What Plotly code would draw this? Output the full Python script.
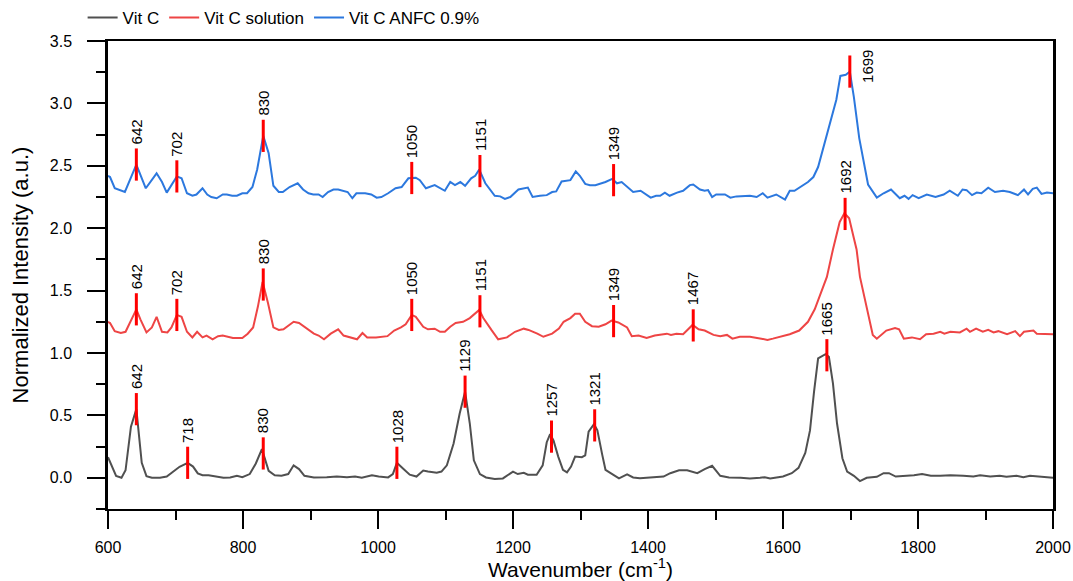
import numpy as np
import plotly.graph_objects as go

# ---------------- data ----------------
vitc_wn = [600, 603, 612, 620, 626, 634, 642, 650, 657, 665, 677, 687, 697, 706, 718, 726, 733, 740, 749, 759,
           771, 781, 791, 799, 810, 819, 828, 838, 847, 857, 867, 875, 883, 891, 905, 924, 939, 954, 966, 976,
           991, 1001, 1015, 1022, 1028, 1037, 1047, 1057, 1067, 1074, 1087, 1094, 1102, 1112, 1121, 1129, 1136,
           1142, 1151, 1160, 1173, 1185, 1200, 1207, 1216, 1222, 1235, 1244, 1250, 1255, 1260, 1267, 1274, 1280,
           1286, 1292, 1302, 1307, 1312, 1320, 1325, 1332, 1337, 1347, 1357, 1369, 1378, 1388, 1401, 1413, 1423,
           1433, 1446, 1458, 1473, 1484, 1495, 1507, 1520, 1537, 1551, 1566, 1573, 1581, 1591, 1600, 1613, 1623,
           1633, 1640, 1646, 1652, 1663, 1668, 1674, 1680, 1688, 1695, 1705, 1714, 1724, 1739, 1749, 1757, 1767,
           1784, 1794, 1806, 1819, 1833, 1848, 1867, 1882, 1892, 1907, 1921, 1931, 1946, 1956, 1966, 1981, 2000]
vitc_int = [0.165, 0.13, 0.015, 0.0, 0.06, 0.41, 0.55, 0.12, 0.013, 0.0, 0.0, 0.01, 0.048, 0.088, 0.12, 0.09,
            0.035, 0.02, 0.02, 0.01, 0.0, 0.003, 0.016, 0.005, 0.03, 0.115, 0.23, 0.056, 0.02, 0.016, 0.03, 0.10,
            0.07, 0.016, 0.003, 0.005, 0.01, 0.005, 0.01, 0.0, 0.02, 0.01, 0.003, 0.03, 0.12, 0.075, 0.025, 0.01,
            0.058, 0.05, 0.04, 0.05, 0.10, 0.275, 0.515, 0.69, 0.435, 0.14, 0.03, 0.003, -0.01, -0.005, 0.05,
            0.03, 0.04, 0.025, 0.025, 0.10, 0.285, 0.35, 0.30, 0.17, 0.064, 0.043, 0.09, 0.17, 0.165, 0.18, 0.37,
            0.43, 0.38, 0.19, 0.064, 0.03, -0.004, 0.027, 0.003, -0.003, 0.0, 0.008, 0.01, 0.037, 0.06, 0.061,
            0.037, 0.069, 0.096, 0.016, 0.003, 0.0, -0.005, 0.0, 0.005, -0.005, 0.005, 0.01, 0.037, 0.08, 0.20,
            0.38, 0.69, 0.957, 0.99, 0.97, 0.757, 0.437, 0.157, 0.05, 0.016, -0.026, 0.0, 0.008, 0.037, 0.037,
            0.01, 0.016, 0.02, 0.03, 0.016, 0.016, 0.02, 0.016, 0.01, 0.02, 0.01, 0.016, 0.008, 0.016, 0.005,
            0.016, 0.008, 0.0]

sol_wn = [600, 603, 610, 619, 626, 642, 648, 657, 665, 672, 680, 688, 694, 702, 709, 717, 725, 732, 740, 746,
          755, 763, 770, 785, 799, 807, 815, 822, 829, 837, 845, 853, 860, 868, 875, 883, 893, 905, 912, 920,
          930, 941, 949, 958, 969, 977, 984, 997, 1014, 1024, 1034, 1041, 1050, 1056, 1067, 1074, 1084, 1092,
          1099, 1107, 1115, 1126, 1136, 1150, 1156, 1168, 1178, 1191, 1203, 1216, 1223, 1236, 1245, 1258, 1268,
          1275, 1285, 1292, 1299, 1307, 1317, 1327, 1337, 1346, 1356, 1369, 1376, 1386, 1398, 1410, 1420, 1428,
          1434, 1442, 1452, 1460, 1466, 1475, 1484, 1497, 1507, 1517, 1525, 1536, 1551, 1568, 1577, 1585, 1595,
          1610, 1624, 1637, 1647, 1657, 1665, 1674, 1684, 1691, 1698, 1705, 1709, 1714, 1724, 1733, 1739, 1753,
          1766, 1772, 1779, 1791, 1803, 1812, 1823, 1833, 1839, 1848, 1862, 1872, 1877, 1886, 1896, 1904, 1912,
          1919, 1932, 1944, 1951, 1957, 1971, 1976, 2000]
sol_int = [1.25, 1.24, 1.175, 1.16, 1.17, 1.35, 1.27, 1.165, 1.205, 1.29, 1.17, 1.165, 1.205, 1.305, 1.29, 1.17,
           1.125, 1.17, 1.125, 1.14, 1.11, 1.135, 1.14, 1.12, 1.12, 1.155, 1.205, 1.37, 1.57, 1.40, 1.205, 1.185,
           1.19, 1.225, 1.25, 1.24, 1.20, 1.155, 1.14, 1.11, 1.155, 1.19, 1.14, 1.125, 1.11, 1.16, 1.125, 1.125,
           1.135, 1.18, 1.205, 1.23, 1.305, 1.29, 1.21, 1.19, 1.195, 1.17, 1.17, 1.21, 1.24, 1.25, 1.28, 1.345,
           1.28, 1.185, 1.11, 1.125, 1.17, 1.195, 1.185, 1.155, 1.13, 1.155, 1.195, 1.25, 1.28, 1.315, 1.315,
           1.25, 1.215, 1.21, 1.23, 1.26, 1.245, 1.205, 1.135, 1.14, 1.12, 1.14, 1.145, 1.155, 1.145, 1.155,
           1.15, 1.195, 1.225, 1.19, 1.18, 1.145, 1.135, 1.145, 1.115, 1.13, 1.13, 1.115, 1.105, 1.115, 1.13,
           1.15, 1.18, 1.25, 1.35, 1.49, 1.61, 1.83, 2.05, 2.12, 2.08, 1.92, 1.83, 1.61, 1.37, 1.145, 1.115,
           1.18, 1.20, 1.19, 1.115, 1.125, 1.11, 1.15, 1.155, 1.17, 1.155, 1.17, 1.165, 1.195, 1.17, 1.195,
           1.17, 1.185, 1.165, 1.175, 1.15, 1.175, 1.135, 1.17, 1.18, 1.155, 1.15]

anfc_wn = [600, 603, 610, 625, 642, 656, 672, 680, 687, 702, 709, 717, 725, 731, 740, 747, 753, 761, 770, 776,
           784, 791, 799, 806, 814, 821, 830, 838, 845, 853, 859, 869, 881, 889, 897, 904, 912, 918, 926, 934,
           941, 949, 955, 962, 968, 981, 990, 998, 1005, 1015, 1026, 1035, 1045, 1056, 1062, 1071, 1084, 1099,
           1107, 1114, 1122, 1129, 1138, 1144, 1150, 1159, 1173, 1181, 1188, 1196, 1208, 1222, 1229, 1240, 1250,
           1258, 1264, 1272, 1285, 1293, 1299, 1307, 1314, 1322, 1337, 1347, 1354, 1361, 1369, 1378, 1389, 1397,
           1404, 1412, 1418, 1425, 1432, 1443, 1452, 1462, 1467, 1477, 1484, 1489, 1495, 1501, 1514, 1522, 1531,
           1551, 1561, 1570, 1577, 1590, 1603, 1610, 1617, 1637, 1645, 1652, 1664, 1679, 1685, 1693, 1699, 1705,
           1713, 1726, 1739, 1749, 1760, 1773, 1780, 1786, 1792, 1801, 1813, 1826, 1838, 1847, 1859, 1866, 1872,
           1880, 1887, 1894, 1904, 1914, 1926, 1936, 1948, 1957, 1963, 1970, 1976, 1983, 1991, 2000]
anfc_int = [2.42, 2.41, 2.32, 2.29, 2.51, 2.32, 2.44, 2.37, 2.285, 2.415, 2.40, 2.28, 2.26, 2.27, 2.32, 2.27,
            2.25, 2.24, 2.27, 2.27, 2.26, 2.26, 2.28, 2.28, 2.33, 2.47, 2.74, 2.60, 2.34, 2.29, 2.29, 2.33, 2.36,
            2.31, 2.28, 2.27, 2.27, 2.25, 2.29, 2.31, 2.31, 2.30, 2.29, 2.24, 2.28, 2.28, 2.27, 2.245, 2.25, 2.28,
            2.32, 2.33, 2.40, 2.405, 2.385, 2.32, 2.345, 2.30, 2.37, 2.345, 2.37, 2.34, 2.40, 2.42, 2.47, 2.36,
            2.26, 2.255, 2.235, 2.25, 2.31, 2.325, 2.25, 2.26, 2.265, 2.29, 2.295, 2.375, 2.385, 2.455, 2.42,
            2.355, 2.345, 2.345, 2.37, 2.395, 2.36, 2.37, 2.33, 2.29, 2.30, 2.27, 2.245, 2.26, 2.26, 2.285, 2.26,
            2.285, 2.30, 2.345, 2.35, 2.31, 2.30, 2.305, 2.25, 2.27, 2.27, 2.245, 2.255, 2.26, 2.25, 2.28, 2.245,
            2.27, 2.23, 2.30, 2.30, 2.37, 2.41, 2.49, 2.73, 3.03, 3.22, 3.23, 3.255, 3.05, 2.72, 2.35, 2.245,
            2.28, 2.31, 2.24, 2.26, 2.235, 2.265, 2.24, 2.27, 2.25, 2.27, 2.30, 2.26, 2.31, 2.305, 2.265, 2.285,
            2.28, 2.325, 2.29, 2.30, 2.29, 2.265, 2.31, 2.27, 2.315, 2.325, 2.275, 2.285, 2.28]

vitc_peaks = [642, 718, 830, 1028, 1129, 1257, 1321, 1665]
sol_peaks = [642, 702, 830, 1050, 1151, 1349, 1467, 1692]
anfc_peaks = [642, 702, 830, 1050, 1151, 1349, 1699]

series_names = ["Vit C", "Vit C solution", "Vit C ANFC 0.9%"]
x_ticks = [600, 800, 1000, 1200, 1400, 1600, 1800, 2000]

# ---------------- styles ----------------
FONT = "Liberation Sans, Arial, sans-serif"
colors = ["#505050", "#EE4545", "#2C78DE"]
PEAK_RED = "#FF0000"

fig = go.Figure()
series = [(vitc_wn, vitc_int, vitc_peaks), (sol_wn, sol_int, sol_peaks), (anfc_wn, anfc_int, anfc_peaks)]

for (wn, it, _), name, col in zip(series, series_names, colors):
    fig.add_trace(go.Scatter(x=wn, y=it, mode="lines", name=name,
                             line=dict(color=col, width=2)))

annotations = []
for (wn, it, peaks) in series:
    py = np.interp(peaks, wn, it)
    fig.add_trace(go.Scatter(x=peaks, y=py, mode="markers", showlegend=False, hoverinfo="skip",
                             marker=dict(symbol="line-ns", size=23, color=PEAK_RED,
                                         line=dict(color=PEAK_RED, width=3))))
    for p, v in zip(peaks, py):
        if p == 1699:
            annotations.append(dict(x=p, y=v, xref="x", yref="y", text=str(p), showarrow=False,
                                    textangle=-90, xanchor="left", yanchor="middle", xshift=7, yshift=5,
                                    font=dict(family=FONT, size=15, color="black")))
        else:
            annotations.append(dict(x=p, y=v, xref="x", yref="y", text=str(p), showarrow=False,
                                    textangle=-90, xanchor="center", yanchor="bottom", yshift=18,
                                    font=dict(family=FONT, size=15, color="black")))

fig.update_layout(
    width=1073, height=581,
    margin=dict(l=108, r=20, t=41, b=72, autoexpand=False),
    paper_bgcolor="white", plot_bgcolor="white",
    font=dict(family=FONT, size=16, color="black"),
    showlegend=True,
    legend=dict(orientation="h", xref="container", yref="container", x=0.077, y=0.969,
                xanchor="left", yanchor="middle", font=dict(family=FONT, size=17, color="black"),
                bgcolor="rgba(0,0,0,0)", borderwidth=0, tracegroupgap=0, itemwidth=30),
    annotations=annotations,
)

fig.update_xaxes(range=[600, 2000], tickvals=x_ticks, ticktext=[str(t) for t in x_ticks],
                 ticks="outside", ticklen=18, tickwidth=2, tickcolor="black",
                 showline=True, linewidth=1.5, linecolor="black", mirror=True,
                 showgrid=False, zeroline=False, ticklabelstandoff=5, automargin=False,
                 tickfont=dict(family=FONT, size=16, color="black"),
                 minor=dict(dtick=100, tick0=600, ticks="outside", ticklen=9, tickwidth=2, tickcolor="black",
                            showgrid=False),
                 title=dict(text="Wavenumber (cm<sup>-1</sup>)", standoff=15,
                            font=dict(family=FONT, size=21, color="black")))
fig.update_yaxes(range=[-0.25, 3.5], dtick=0.5, tick0=0, tickformat=".1f",
                 ticks="outside", ticklen=18, tickwidth=1.5, tickcolor="black",
                 showline=True, linewidth=2.5, linecolor="black", mirror=True,
                 showgrid=False, zeroline=False, ticklabelstandoff=12, automargin=False,
                 tickfont=dict(family=FONT, size=16, color="black"),
                 minor=dict(dtick=0.25, tick0=0, ticks="outside", ticklen=9, tickwidth=1.5, tickcolor="black",
                            showgrid=False),
                 title=dict(text="Normalized Intensity (a.u.)", standoff=16,
                            font=dict(family=FONT, size=22, color="black")))

fig.write_html("out.html", config={"displayModeBar": False},
               post_script="document.body.style.margin='0';")
